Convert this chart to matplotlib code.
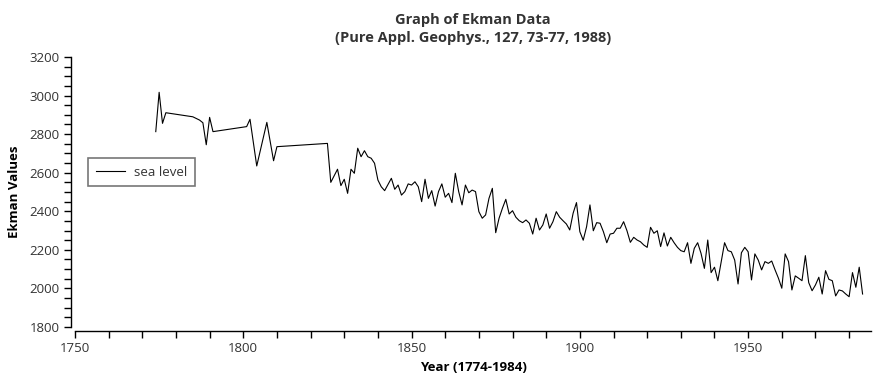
import matplotlib.pyplot as plt
from matplotlib.ticker import MultipleLocator

# Ekman sea level data (Stockholm)
years = [1774, 1775, 1776, 1777, 1785, 1787, 1788, 1789, 1790, 1791,
         1801, 1802, 1804, 1807, 1809, 1810,
         1825, 1826, 1828, 1829, 1830, 1831, 1832, 1833, 1834, 1835,
         1836, 1837, 1838, 1839, 1840, 1841, 1842, 1844, 1845, 1846,
         1847, 1848, 1849] + list(range(1850, 1942)) + list(range(1943, 1985))

sea_level = [2813, 3017, 2856, 2911, 2890, 2873, 2859, 2745, 2887, 2813,
             2839, 2877, 2635, 2861, 2662, 2735,
             2752, 2550, 2618, 2533, 2566, 2493, 2618, 2597, 2727, 2683,
             2714, 2683, 2675, 2649, 2562, 2527, 2507, 2571, 2514, 2536,
             2484, 2502, 2542,
             # 1850-1859
             2536, 2553, 2527, 2450, 2566, 2467, 2507, 2427, 2502, 2542,
             # 1860-1869
             2473, 2493, 2445, 2597, 2502, 2433, 2536, 2496, 2510, 2502,
             # 1870-1879
             2398, 2364, 2381, 2467, 2519, 2289, 2364, 2416, 2462, 2386,
             # 1880-1889
             2403, 2369, 2351, 2341, 2355, 2338, 2282, 2364, 2303, 2329,
             # 1890-1899
             2386, 2312, 2346, 2398, 2369, 2351, 2334, 2303, 2390, 2445,
             # 1900-1909
             2294, 2250, 2320, 2433, 2299, 2341, 2338, 2294, 2237, 2282,
             # 1910-1919
             2286, 2312, 2312, 2346, 2299, 2239, 2265, 2251, 2242, 2225,
             # 1920-1929
             2213, 2317, 2286, 2299, 2217, 2288, 2220, 2265, 2237, 2213,
             # 1930-1941
             2196, 2190, 2237, 2130, 2208, 2237, 2182, 2104, 2251, 2082,
             2110, 2040,
             # 1943-1949
             2237, 2196, 2190, 2147, 2023, 2185, 2213,
             # 1950-1959
             2190, 2044, 2179, 2147, 2096, 2139, 2130, 2142, 2096, 2053,
             # 1960-1969
             2001, 2179, 2139, 1992, 2065, 2053, 2040, 2170, 2030, 1988,
             # 1970-1979
             2018, 2058, 1971, 2092, 2047, 2040, 1961, 1992, 1987, 1971,
             # 1980-1984
             1957, 2082, 2006, 2110, 1971]

plt.rcParams['font.family'] = ['Open Sans', 'DejaVu Sans']
text_color = "#333333"

fig = plt.figure(figsize=(8.73, 3.8), dpi=100)
ax = fig.add_axes([0.0859, 0.1395, 0.9118, 0.7105])

ax.plot(years, sea_level, color="black", linewidth=0.8, label="sea level")

ax.set_xlim(1750, 1986.5)
ax.set_ylim(1800, 3200)
ax.xaxis.set_major_locator(MultipleLocator(50))
ax.xaxis.set_minor_locator(MultipleLocator(10))
ax.yaxis.set_major_locator(MultipleLocator(200))
ax.yaxis.set_minor_locator(MultipleLocator(50))

for side in ["top", "right"]:
    ax.spines[side].set_visible(False)
for side in ["left", "bottom"]:
    ax.spines[side].set_position(("outward", 3))
    ax.spines[side].set_linewidth(1.0)

ax.tick_params(which="major", length=5, width=1, labelsize=9.5, labelcolor=text_color, pad=3)
ax.tick_params(which="minor", length=5, width=1)

ax.set_xlabel("Year (1774-1984)", fontsize=9.5, fontweight="bold", color="black", labelpad=4)
ax.set_ylabel("Ekman Values", fontsize=9.5, fontweight="bold", color="black", labelpad=6)
ax.set_title("Graph of Ekman Data\n(Pure Appl. Geophys., 127, 73-77, 1988)",
             fontsize=10.5, fontweight="bold", color=text_color, pad=11, linespacing=1.3)

leg = ax.legend(loc="center left", bbox_to_anchor=(0.008, 0.574), fancybox=False,
                fontsize=9.5, handlelength=2.2, handletextpad=0.7, borderpad=0.6,
                framealpha=1)
leg.get_frame().set_edgecolor("#777777")
leg.get_frame().set_linewidth(1.2)
for t in leg.get_texts():
    t.set_color(text_color)

fig.savefig("out.png", dpi=100)
